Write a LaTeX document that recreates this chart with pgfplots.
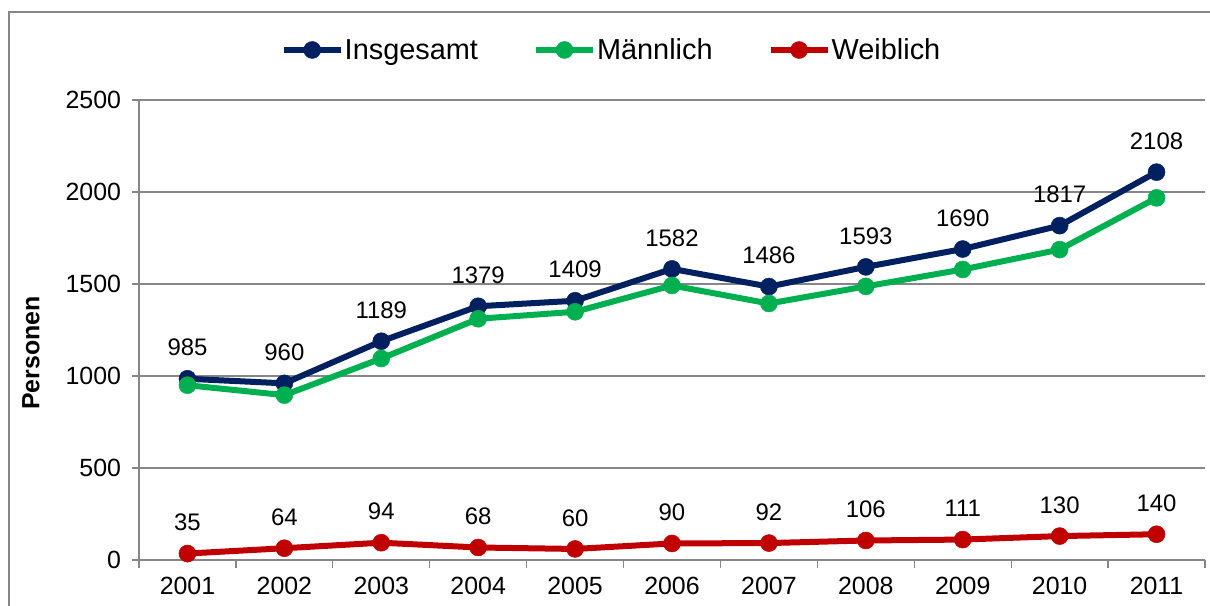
\documentclass[border=0pt]{standalone}
\usepackage{pgfplots}
\pgfplotsset{compat=1.18}
\usepackage{fontspec}
\setmainfont{Liberation Sans}
\definecolor{navy}{RGB}{0,32,96}
\definecolor{mgreen}{RGB}{0,176,80}
\definecolor{wred}{RGB}{192,0,0}
\definecolor{gridgray}{RGB}{134,134,134}
\begin{document}
\begin{tikzpicture}
\useasboundingbox (0,0) rectangle (1210bp,606bp);
\draw[draw=gridgray, line width=1.5bp] (9bp,-30bp) rectangle (1240bp,594bp);
\begin{axis}[
  at={(139bp,46bp)}, anchor=south west,
  scale only axis, width=1066bp, height=460bp,
  clip=false,
  xmin=-0.5, xmax=10.5, ymin=0, ymax=2500,
  ytick={0,500,1000,1500,2000,2500},
  xtick={0,1,2,3,4,5,6,7,8,9,10},
  xticklabels={2001,2002,2003,2004,2005,2006,2007,2008,2009,2010,2011},
  minor xtick={-0.5,0.5,1.5,2.5,3.5,4.5,5.5,6.5,7.5,8.5,9.5,10.5},
  axis x line*=bottom, axis y line*=left,
  axis line style={draw=gridgray, line width=1.3bp, -},
  ymajorgrids, grid style={draw=gridgray, line width=1.3bp},
  tick align=outside,
  major tick length=7.5bp, minor tick length=8bp,
  tick style={draw=gridgray, line width=1.3bp},
  major x tick style={draw=none},
  /pgf/number format/1000 sep={},
  /pgf/number format/assume math mode=true,
  tick label style={font=\fontsize{25}{30}\selectfont},
  yticklabel style={xshift=-7bp},
  xticklabel style={yshift=-6bp},
  ylabel={Personen},
  ylabel style={at={(axis description cs:-0.1013,0.45)}, anchor=center, font=\bfseries\fontsize{25}{30}\selectfont},
  legend columns=3,
  legend style={at={(0.4428,1.1087)}, anchor=center, draw=none, fill=none,
    font=\fontsize{29}{34}\selectfont,
    nodes={inner xsep=1bp},
    /tikz/every even column/.append style={column sep=54bp}},
  legend image code/.code={\draw[#1, mark repeat=2, mark phase=2] plot coordinates {(0bp,0bp) (28.5bp,0bp) (57bp,0bp)};},
  every axis plot/.append style={line width=6bp, line join=round, mark=*, mark size=8.5bp},
  every node near coord/.append style={anchor=center, yshift=31bp, text=black, font=\fontsize{24}{28}\selectfont},
]
\addplot[color=navy, mark options={fill=navy, draw=navy, line width=0.5bp}, nodes near coords] coordinates {
(0,985) (1,960) (2,1189) (3,1379) (4,1409) (5,1582) (6,1486) (7,1593) (8,1690) (9,1817) (10,2108)};
\addlegendentry{Insgesamt}
\addplot[color=mgreen, mark options={fill=mgreen, draw=mgreen, line width=0.5bp}] coordinates {
(0,950) (1,896) (2,1095) (3,1311) (4,1349) (5,1492) (6,1394) (7,1487) (8,1579) (9,1687) (10,1968)};
\addlegendentry{Männlich}
\addplot[color=wred, mark options={fill=wred, draw=wred, line width=0.5bp}, nodes near coords] coordinates {
(0,35) (1,64) (2,94) (3,68) (4,60) (5,90) (6,92) (7,106) (8,111) (9,130) (10,140)};
\addlegendentry{Weiblich}
\end{axis}
\end{tikzpicture}
\end{document}
